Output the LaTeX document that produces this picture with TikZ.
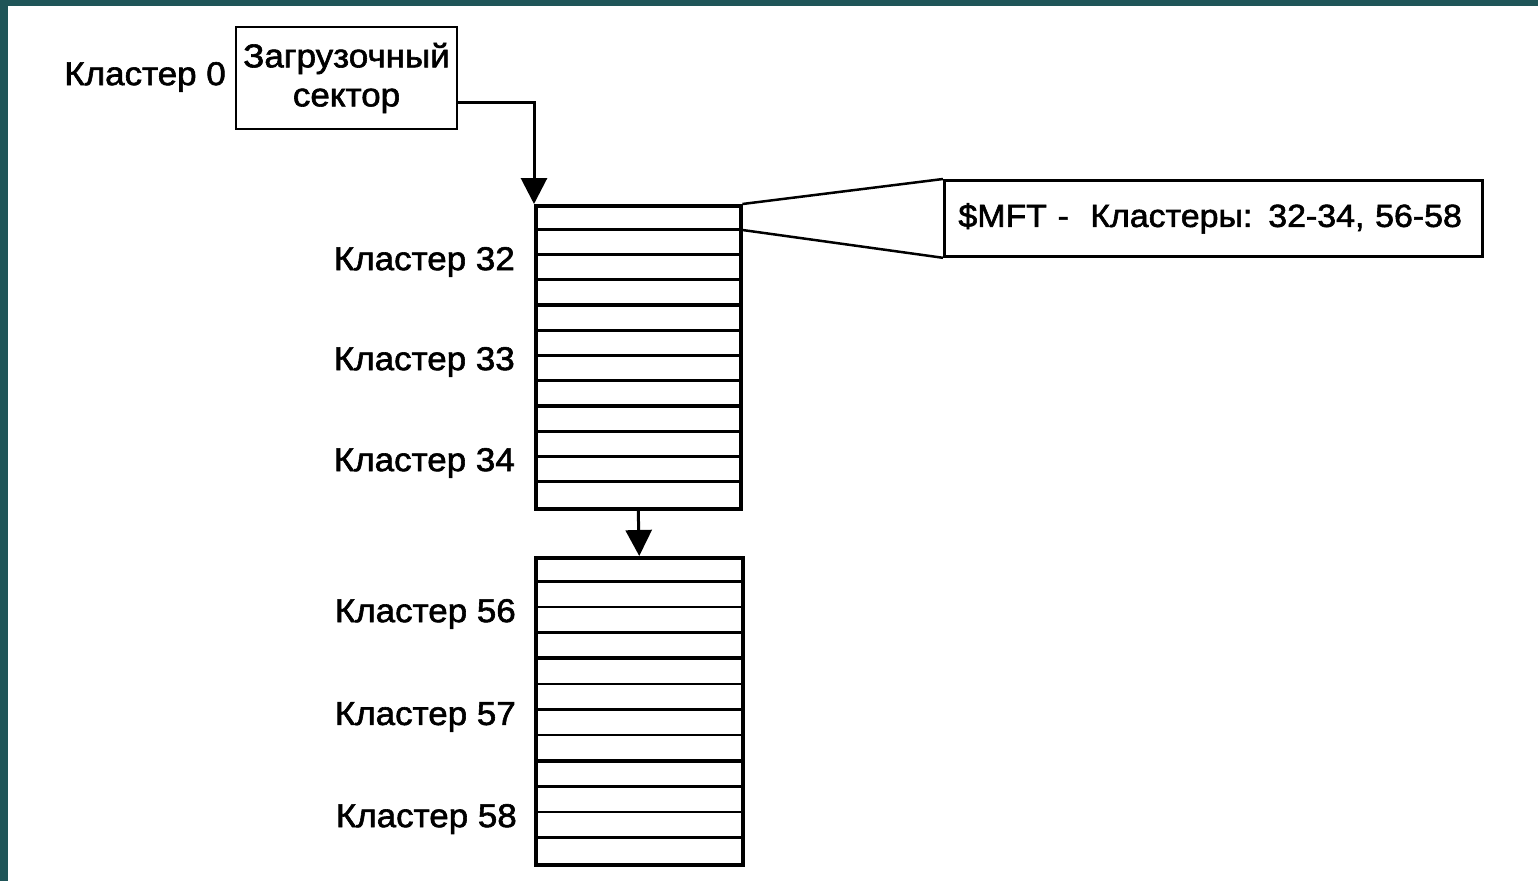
\documentclass[tikz,border=0pt]{standalone}
\usepackage{fontspec}
\setmainfont{Liberation Sans}[FakeBold=1.8,FakeStretch=1.06]
\usetikzlibrary{arrows.meta}
\definecolor{framecol}{HTML}{1F5558}
\begin{document}
\begin{tikzpicture}[x=1pt,y=-1pt,
  font=\fontsize{33}{39}\selectfont,
  box/.style={draw, line width=2.8pt, inner sep=0pt},
  stack/.style={draw, line width=3.5pt, inner sep=0pt, anchor=north west},
  lab/.style={anchor=east, inner sep=0pt},
  conn/.style={line width=3pt, -{Triangle[length=26pt,width=26pt]}}]
\useasboundingbox (0,0) rectangle (1538,881);
\fill[white] (0,0) rectangle (1538,881);
\fill[framecol] (0,0) rectangle (1538,6);
\fill[framecol] (0,0) rectangle (8,881);

% boot sector
\node[box, minimum width=221pt, minimum height=102pt, align=center] (boot) at (346.5,78) {Загрузочный\\[0pt]сектор};
\node[lab] (l0) at (226,77) {Кластер 0};

% stacks
\node[stack, minimum width=205pt, minimum height=303pt] (s1) at (534,204) {};
\node[stack, minimum width=207pt, minimum height=307pt] (s2) at (534,556) {};

\foreach \i in {1,...,11}{
  \pgfmathsetmacro{\w}{ifthenelse(mod(\i,4)==0,4,2.6)}
  \draw[line width=\w pt] ([yshift=-\i*25.25pt]s1.north west) -- ([yshift=-\i*25.25pt]s1.north east);
  \draw[line width=\w pt] ([yshift=-\i*25.58pt]s2.north west) -- ([yshift=-\i*25.58pt]s2.north east);
}

\node[lab] (l32) at (515,262) {Кластер 32};
\node[lab] (l33) at (515,362) {Кластер 33};
\node[lab] (l34) at (515,463) {Кластер 34};
\node[lab] (l56) at (516,614) {Кластер 56};
\node[lab] (l57) at (516,717) {Кластер 57};
\node[lab] (l58) at (517,819) {Кластер 58};

% MFT callout
\node[box, anchor=north west, text width=510pt, inner xsep=14pt, minimum height=76pt, align=left,
  font=\fontsize{32}{38}\selectfont] (mft) at (943,179) {\$MFT -~~Кластеры: 32-34, 56-58};
\draw[line width=2.5pt] (s1.north east) -- (mft.north west);
\draw[line width=2.5pt] ([yshift=-26pt]s1.north east) -- (mft.south west);

% connectors
\draw[conn] ([yshift=-24pt]boot.east) -| (s1.north west);
\draw[conn] (s1.south) -- (s2.north);
\end{tikzpicture}
\end{document}
